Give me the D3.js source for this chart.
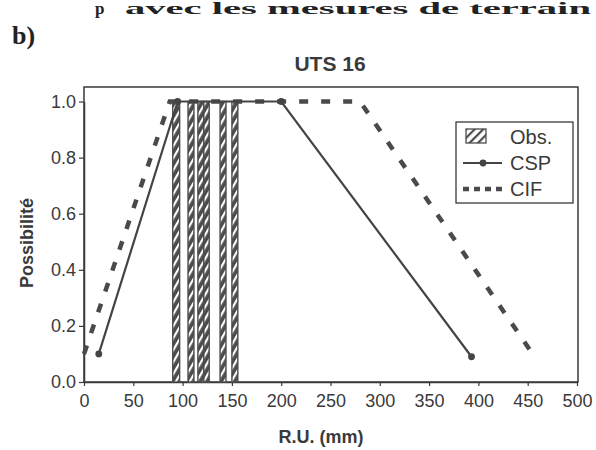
<!DOCTYPE html>
<html><head><meta charset="utf-8">
<script src="https://cdn.jsdelivr.net/npm/d3@7"></script>
<style>body{margin:0;background:#fff}svg{display:block}</style>
</head><body>
<script>
// ---- data ----
const xTicks = [0,50,100,150,200,250,300,350,400,450,500];
const yTicks = [0.0,0.2,0.4,0.6,0.8,1.0];
const cspX = [15, 95, 200, 393];
const cspY = [0.1, 1.0, 1.0, 0.09];
const cifX = [0, 87, 280, 455];
const cifY = [0.1, 1.0, 1.0, 0.1];
const obsStart = [90, 105.5, 115.5, 121.5, 138, 150];
const obsEnd   = [97, 111.5, 121.5, 127, 144, 156];
const obsValue = [1, 1, 1, 1, 1, 1];
const legendLabels = ["Obs.", "CSP", "CIF"];

const W = 596, H = 450;
const svg = d3.select("body").append("svg").attr("width", W).attr("height", H);
const ink = "#3a3a3a";

const x = d3.scaleLinear().domain([0,500]).range([84,577]);
const y = d3.scaleLinear().domain([0,1]).range([382,101.5]);

// hatch patterns
const defs = svg.append("defs");
const pat = defs.append("pattern").attr("id","hatch").attr("patternUnits","userSpaceOnUse")
  .attr("width",6).attr("height",6).attr("patternTransform","rotate(30)");
pat.append("rect").attr("width",6).attr("height",6).attr("fill","#4c4c4c");
pat.append("rect").attr("x",0).attr("y",0).attr("width",2.2).attr("height",6).attr("fill","#fff");
const pat2 = defs.append("pattern").attr("id","hatchL").attr("patternUnits","userSpaceOnUse")
  .attr("width",6).attr("height",6).attr("patternTransform","rotate(45)");
pat2.append("rect").attr("width",6).attr("height",6).attr("fill","#fff");
pat2.append("rect").attr("x",0).attr("y",0).attr("width",2.2).attr("height",6).attr("fill","#4c4c4c");

// header text
svg.append("text").attr("x",95).attr("y",14).attr("font-family","Liberation Serif, DejaVu Serif, serif")
  .attr("font-weight","bold").attr("font-size",17).attr("fill","#222").text("p");
svg.append("text").attr("x",125).attr("y",14).attr("font-family","Liberation Serif, DejaVu Serif, serif")
  .attr("font-weight","bold").attr("font-size",17).attr("fill","#222")
  .attr("textLength",466).attr("lengthAdjust","spacingAndGlyphs").text("avec les mesures de terrain");
svg.append("text").attr("x",12).attr("y",44).attr("font-family","Liberation Serif, DejaVu Serif, serif")
  .attr("font-weight","bold").attr("font-size",26).attr("fill","#222").text("b)");

// title
svg.append("text").attr("x",330).attr("y",71).attr("text-anchor","middle")
  .attr("font-family","Liberation Sans, Arial, sans-serif").attr("font-weight","bold")
  .attr("font-size",21).attr("fill",ink).text("UTS 16");

// frame
svg.append("rect").attr("x",x(0)).attr("y",87).attr("width",x(500)-x(0)+1).attr("height",y(0)-87)
  .attr("fill","none").attr("stroke",ink).attr("stroke-width",1.5);

// axes
const xAxis = svg.append("g").attr("transform",`translate(0,${y(0)})`)
  .call(d3.axisBottom(x).tickValues(xTicks).tickSize(4).tickSizeOuter(0).tickPadding(8).tickFormat(d3.format("d")));
const yAxis = svg.append("g").attr("transform",`translate(${x(0)},0)`)
  .call(d3.axisLeft(y).tickValues(yTicks).tickSize(5).tickSizeOuter(0).tickPadding(3).tickFormat(d3.format(".1f")));
[xAxis,yAxis].forEach(g=>{
  g.select(".domain").attr("stroke",ink).attr("stroke-width",1.5);
  g.selectAll(".tick line").attr("stroke",ink).attr("stroke-width",1.2);
  g.selectAll("text").attr("font-family","Liberation Sans, Arial, sans-serif").attr("font-size",18).attr("fill",ink);
});

// axis titles
svg.append("text").attr("x",321).attr("y",443).attr("text-anchor","middle")
  .attr("font-family","Liberation Sans, Arial, sans-serif").attr("font-weight","bold")
  .attr("font-size",18).attr("fill",ink).text("R.U. (mm)");
svg.append("text").attr("transform","translate(33,243) rotate(-90)").attr("text-anchor","middle")
  .attr("font-family","Liberation Sans, Arial, sans-serif").attr("font-weight","bold")
  .attr("font-size",18).attr("fill",ink).text("Possibilité");

// obs bars
svg.append("g").selectAll("rect").data(obsStart).join("rect")
  .attr("x",(d)=>x(d)).attr("width",(d,i)=>x(obsEnd[i])-x(d))
  .attr("y",(d,i)=>y(obsValue[i])).attr("height",(d,i)=>y(0)-y(obsValue[i]))
  .attr("fill","url(#hatch)").attr("stroke","#4c4c4c").attr("stroke-width",1.4);

// CIF
const cif = cifX.map((d,i)=>[d,cifY[i]]);
svg.append("path").datum(cif).attr("d",d3.line().x(d=>x(d[0])).y(d=>y(d[1])))
  .attr("fill","none").attr("stroke","#4a4a4a").attr("stroke-width",4.5).attr("stroke-dasharray","9,13");

// CSP
const csp = cspX.map((d,i)=>[d,cspY[i]]);
svg.append("path").datum(csp).attr("d",d3.line().x(d=>x(d[0])).y(d=>y(d[1])))
  .attr("fill","none").attr("stroke","#444").attr("stroke-width",2.2);
svg.append("g").selectAll("circle").data(csp).join("circle")
  .attr("cx",d=>x(d[0])).attr("cy",d=>y(d[1])).attr("r",3.4).attr("fill","#444");

// legend
const lg = svg.append("g");
lg.append("rect").attr("x",456).attr("y",122).attr("width",117).attr("height",81)
  .attr("fill","#fff").attr("stroke",ink).attr("stroke-width",1.3);
const rowsY = [137, 163, 189];
lg.append("rect").attr("x",466).attr("y",129).attr("width",20).attr("height",14)
  .attr("fill","url(#hatchL)").attr("stroke","#4c4c4c").attr("stroke-width",1.3);
lg.append("line").attr("x1",463).attr("x2",502).attr("y1",rowsY[1]).attr("y2",rowsY[1])
  .attr("stroke","#444").attr("stroke-width",2.2);
lg.append("circle").attr("cx",483).attr("cy",rowsY[1]).attr("r",3.4).attr("fill","#444");
lg.append("line").attr("x1",463).attr("x2",504).attr("y1",rowsY[2]).attr("y2",rowsY[2])
  .attr("stroke","#4a4a4a").attr("stroke-width",4.5).attr("stroke-dasharray","6,5");
lg.selectAll("text.lab").data(legendLabels).join("text").attr("class","lab")
  .attr("x",510).attr("y",(d,i)=>rowsY[i]+7)
  .attr("font-family","Liberation Sans, Arial, sans-serif").attr("font-size",20).attr("fill",ink)
  .text(d=>d);
</script>
</body></html>
